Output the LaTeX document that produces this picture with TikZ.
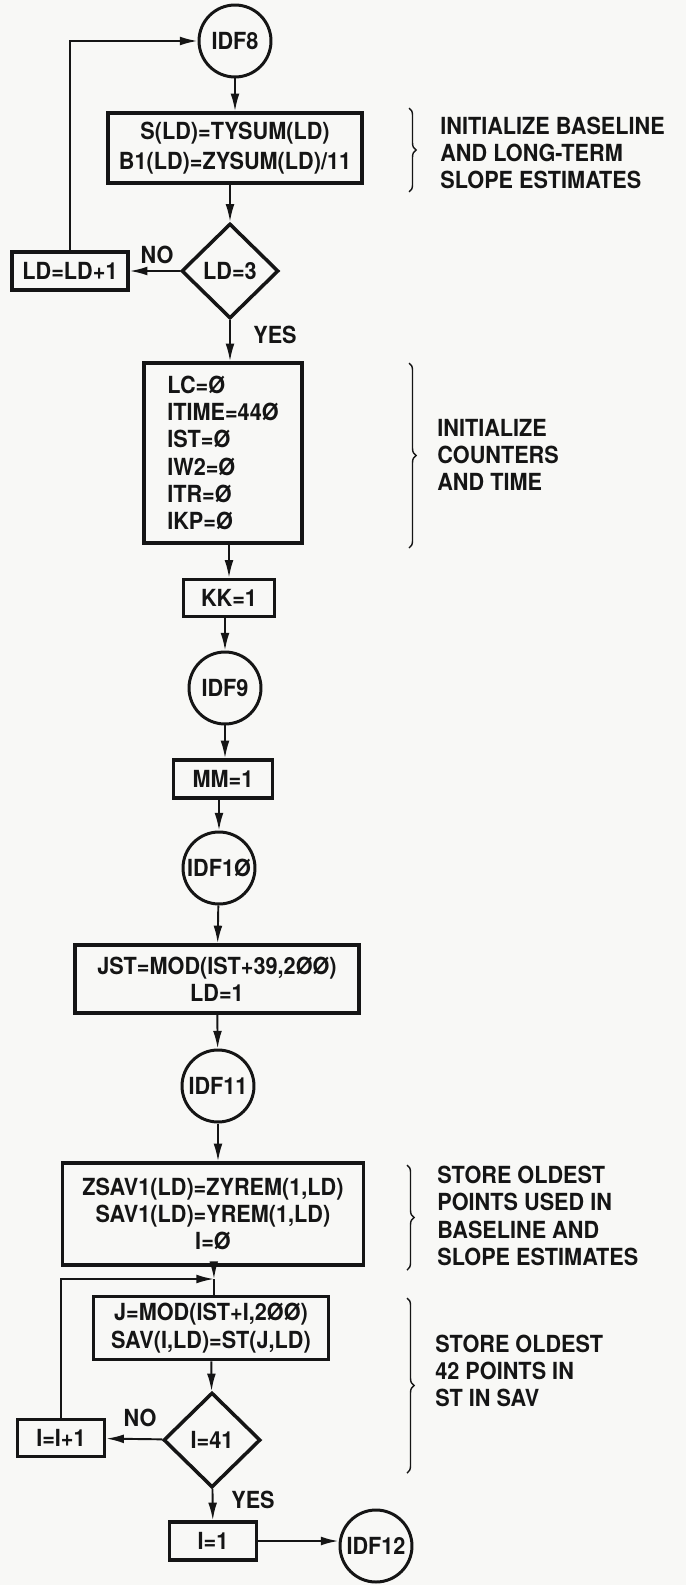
\documentclass[tikz,border=0pt]{standalone}
\usepackage{fontspec}
\setmainfont{TeX Gyre Heros}[FakeStretch=0.92]
\usetikzlibrary{arrows.meta,shapes.geometric,decorations.pathreplacing,calc}
\definecolor{ink}{HTML}{151515}
\definecolor{paper}{HTML}{F8F8F6}
\newcommand{\lettering}{\fontsize{13.4}{15.5}\selectfont\bfseries}
\tikzset{box/.style={draw=ink,line width=2pt,align=center,inner sep=0pt,font=\lettering,text=ink}, conn/.style={circle,draw=ink,line width=1.7pt,minimum size=1.44cm,inner sep=0pt,font=\lettering,text=ink},decision/.style={diamond,draw=ink,line width=2pt,minimum width=1.94cm,minimum height=1.9cm,inner sep=0pt,font=\lettering,text=ink},arr/.style={-{Latex[length=10pt,width=5pt]},line width=1.1pt,draw=ink},wire/.style={line width=1.1pt,draw=ink},note/.style={anchor=west,align=left,inner sep=0pt,font=\lettering,text=ink},lbl/.style={font=\lettering,text=ink},brc/.style={decorate,decoration={brace,amplitude=4pt},line width=0.8pt,draw=ink}}

\begin{document}
\begin{tikzpicture}[x=0.02cm,y=-0.02cm]
\fill[paper] (0,0) rectangle (686,1585);
% upper loop over LD
\node[conn] (idf8) at (235,41){IDF8};
\node[box,minimum width=5.08cm,minimum height=1.4cm] (init) at (235,148){S(LD)=TYSUM(LD)\\[1.5pt]B1(LD)=ZYSUM(LD)/11};
\node[decision] (ldtest) at (230,271){LD=3};
\node[box,minimum width=2.32cm,minimum height=0.76cm] (ldinc) at (70,271){LD=LD+1};
\node[lbl] (no1) at (157,255){NO};\node[lbl] (yes1) at (275,335){YES};
\draw[arr](idf8)--(init);\draw[arr](ldtest |- init.south)--(ldtest);\draw[arr](ldtest)--(ldinc);\draw[arr](ldinc.north)|-(idf8);
% counters
\node[box,align=left,minimum width=3.16cm,minimum height=3.6cm] (cnt) at (223,453){LC=Ø\\ITIME=44Ø\\IST=Ø\\IW2=Ø\\ITR=Ø\\IKP=Ø};
\node[box,minimum width=1.82cm,minimum height=0.74cm] (kk) at (229,598){KK=1};
\node[conn] (idf9) at (225,688){IDF9};
\node[box,minimum width=1.98cm,minimum height=0.76cm] (mm) at (223,779){MM=1};
\node[conn] (idf10) at (219,868){IDF1Ø};
\node[box,minimum width=5.68cm,minimum height=1.36cm] (jst) at (217,979){JST=MOD(IST+39,2ØØ)\\LD=1};
\node[conn] (idf11) at (218,1086){IDF11};
\draw[arr](ldtest)--(ldtest |- cnt.north);\draw[arr](kk |- cnt.south)--(kk);\draw[arr](idf9 |- kk.south)--(idf9);
\draw[arr](idf9)--(idf9 |- mm.north);\draw[arr](idf10 |- mm.south)--(idf10);\draw[arr](idf10)--(jst);\draw[arr](jst)--(idf11);
% lower loop over I
\node[box,minimum width=6.02cm,minimum height=2.04cm] (zsav) at (213,1214){ZSAV1(LD)=ZYREM(1,LD)\\SAV1(LD)=YREM(1,LD)\\I=Ø};
\coordinate (jn) at (214,1279);
\node[box,minimum width=4.7cm,minimum height=1.26cm] (jmod) at (211,1328){J=MOD(IST+I,2ØØ)\\SAV(I,LD)=ST(J,LD)};
\node[decision] (itest) at (212,1440){I=41};
\node[box,minimum width=1.74cm,minimum height=0.74cm] (iinc) at (61,1438){I=I+1};
\node[box,minimum width=1.74cm,minimum height=0.76cm] (ione) at (213,1541){I=1};
\node[conn] (idf12) at (376,1546){IDF12};
\node[lbl] (no2) at (140,1418){NO};\node[lbl] (yes2) at (253,1500){YES};
\draw[arr](idf11)--(idf11 |- zsav.north);\draw[arr](zsav)--(jn);\draw[arr](iinc.north)|-(jn);\draw[wire](jn)--(jn |- jmod.north);
\draw[arr](jmod)--(itest);\draw[arr](itest)--(iinc);\draw[arr](itest)--(ione);\draw[arr](ione)--(ione -| idf12.west);
% braces and remarks
\draw[brc](409,108)--(409,192);\node[note] (n1) at (440,153){INITIALIZE BASELINE\\AND LONG-TERM\\SLOPE ESTIMATES};
\draw[brc](409,363)--(409,548);\node[note] (n2) at (437,455){INITIALIZE\\COUNTERS\\AND TIME};
\draw[brc](407,1165)--(407,1270);\node[note] (n3) at (437,1216){STORE OLDEST\\POINTS USED IN\\BASELINE AND\\SLOPE ESTIMATES};
\draw[brc](407,1298)--(407,1473);\node[note] (n4) at (435,1371){STORE OLDEST\\42 POINTS IN\\ST IN SAV};
\end{tikzpicture}
\end{document}
